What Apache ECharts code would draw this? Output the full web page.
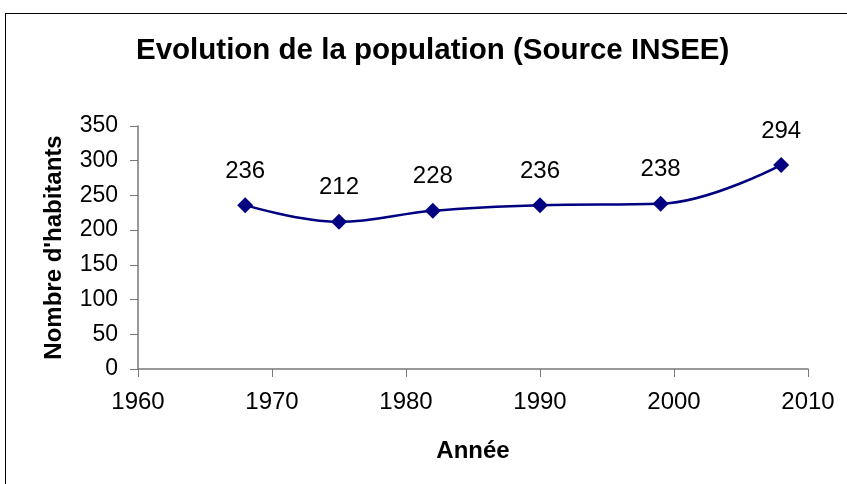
<!DOCTYPE html>
<html>
<head>
<meta charset="utf-8">
<script src="https://cdn.jsdelivr.net/npm/echarts@6/dist/echarts.min.js"></script>
<style>
  html, body { margin: 0; padding: 0; background: #fff; overflow: hidden; }
  #chart { width: 847px; height: 484px; position: relative; }
  #cadre { position: absolute; left: 5px; top: 13px; width: 900px; height: 600px;
           border-top: 1px solid #000; border-left: 1px solid #000; pointer-events: none; }
</style>
</head>
<body>
<div id="chart"></div>
<div id="cadre"></div>
<script>
  // valeurs
  var annees = [1968, 1975, 1982, 1990, 1999, 2008];
  var habitants = [236, 212, 228, 236, 238, 294];
  var titre = 'Evolution de la population (Source INSEE)';

  var points = annees.map(function (a, i) { return [a, habitants[i]]; });

  var chart = echarts.init(document.getElementById('chart'));
  var font = 'Arial, "Liberation Sans", sans-serif';

  chart.setOption({
    animation: false,
    title: {
      text: titre,
      left: 136,
      top: 36,
      padding: 0,
      textStyle: { fontFamily: font, fontSize: 29.5, fontWeight: 'bold', color: '#000' }
    },
    grid: { left: 138, right: 39, top: 126, bottom: 115 },
    xAxis: {
      type: 'value',
      min: 1960, max: 2010, interval: 10,
      name: 'Année',
      nameLocation: 'middle',
      nameGap: 70,
      nameTextStyle: { fontFamily: font, fontSize: 24, fontWeight: 'bold', color: '#000' },
      axisLine: { lineStyle: { color: '#777', width: 1.5 } },
      axisTick: { show: true, length: 8, lineStyle: { color: '#777' } },
      axisLabel: {
        margin: 21, fontFamily: font, fontSize: 24, color: '#000',
        formatter: function (v) { return String(v); }
      },
      splitLine: { show: false }
    },
    yAxis: {
      type: 'value',
      min: 0, max: 350, interval: 50,
      name: "Nombre d'habitants",
      nameLocation: 'middle',
      nameGap: 72,
      nameTextStyle: { fontFamily: font, fontSize: 24, fontWeight: 'bold', color: '#000' },
      axisLine: { show: true, lineStyle: { color: '#777', width: 1.5 } },
      axisTick: { show: true, length: 8, lineStyle: { color: '#777' } },
      axisLabel: { margin: 20, fontFamily: font, fontSize: 23, color: '#000' },
      splitLine: { show: false }
    },
    series: [{
      type: 'line',
      data: points,
      smooth: 0.4,
      symbol: 'diamond',
      symbolSize: 16,
      itemStyle: { color: '#000080' },
      lineStyle: { color: '#000080', width: 2.5 },
      label: {
        show: true,
        position: 'top',
        distance: 14,
        fontFamily: font,
        fontSize: 24,
        color: '#000'
      }
    }]
  });
</script>
</body>
</html>
